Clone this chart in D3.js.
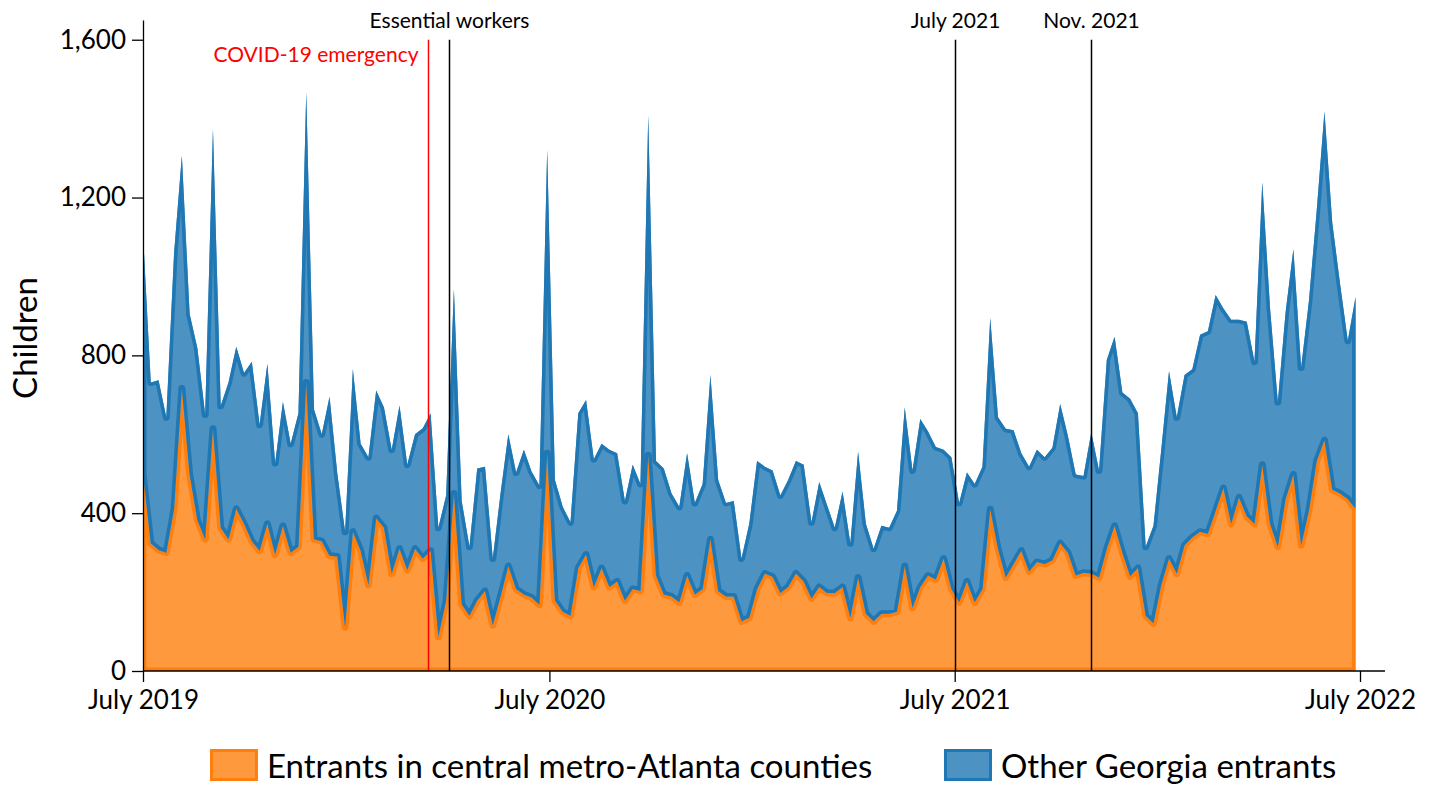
<!DOCTYPE html>
<html><head><meta charset="utf-8">
<script src="https://cdn.jsdelivr.net/npm/d3@7"></script>
<style>
body{margin:0;background:#fff}
svg{display:block}
text{font-family:Lato,"Open Sans",sans-serif;fill:#000}
</style>
</head><body>
<svg id="chart" width="1434" height="787"></svg>
<script>
// ---- data (weekly, starting July 1, 2019) ----
const startDate = "2019-07-01";
const metro = [500,324,307,300,411,716,498,382,334,614,363,334,411,373,329,305,373,295,368,300,
315,731,334,329,292,290,111,353,305,218,387,363,247,310,256,310,285,305,87,179,
450,169,140,179,203,116,189,266,208,194,186,168,552,179,150,140,261,295,213,261,
213,227,179,208,203,547,242,194,189,174,242,194,208,334,203,189,189,126,135,208,
247,239,198,213,247,227,184,213,198,198,213,135,237,145,126,145,145,150,266,160,
213,242,232,285,208,174,227,174,208,410,310,237,271,305,252,276,271,281,324,300,
242,249,247,237,310,368,300,240,261,140,121,218,285,247,319,339,353,348,406,464,
373,440,392,373,523,373,315,436,498,319,406,532,585,460,450,436,411];
const other = [608,407,430,343,649,590,407,436,316,760,309,397,411,382,455,319,406,232,314,276,
338,735,329,271,403,210,242,412,271,324,324,305,314,363,267,290,330,348,276,266,
518,262,175,334,315,169,261,334,295,367,319,302,769,305,266,237,392,392,324,315,
348,325,252,315,271,861,290,319,261,242,310,232,266,416,281,237,242,159,238,324,
271,269,247,271,285,296,193,266,223,165,242,189,319,228,184,223,218,256,402,348,
426,365,336,276,334,252,276,300,310,485,333,377,339,247,266,285,271,285,353,295,
256,245,358,271,479,479,406,450,392,175,247,342,475,396,431,426,499,513,547,455,
517,450,493,411,716,546,367,473,571,450,532,634,833,677,532,401,537];
const seriesKeys = ["metro","other"];
const seriesLabels = ["Entrants in central metro-Atlanta counties","Other Georgia entrants"];
const seriesColors = ["#ff7f0e","#1f77b4"];
const yTicks = [0,400,800,1200,1600];
const xTickDates = ["2019-07-01","2020-07-01","2021-07-01","2022-07-01"];
const xTickLabels = ["July 2019","July 2020","July 2021","July 2022"];
const eventDates = ["2020-03-14","2020-04-02","2021-07-01","2021-11-01"];
const eventLabels = ["COVID-19 emergency","Essential workers","July 2021","Nov. 2021"];
const eventColors = ["red","black","black","black"];

// ---- build ----
const parse = d3.timeParse("%Y-%m-%d");
const t0 = parse(startDate);
const rows = metro.map((m,i)=>({date:d3.timeDay.offset(t0,7*i), metro:m, other:other[i]}));

const svg = d3.select("#chart");
const x = d3.scaleTime().domain([parse("2019-07-01"), parse("2022-07-01")]).range([143,1360]);
const y = d3.scaleLinear().domain([0,1650]).range([671,20]);

const stack = d3.stack().keys(seriesKeys);
const layers = stack(rows);
const area = d3.area().x(d=>x(d.data.date)).y0(d=>y(d[0])).y1(d=>y(d[1]));

const defs = svg.append("defs");
layers.forEach((L,k)=>{
  const d = area(L);
  defs.append("clipPath").attr("id","clip"+k).append("path").attr("d",d);
  svg.append("path").attr("d",d).attr("fill",seriesColors[k]).attr("fill-opacity",0.8);
  svg.append("path").attr("d",d).attr("fill","none").attr("stroke",seriesColors[k])
    .attr("stroke-width",7).attr("stroke-linejoin","round").attr("clip-path","url(#clip"+k+")");
});

// event lines
eventDates.forEach((ds,i)=>{
  const xv = Math.round(x(parse(ds)))+0.5;
  svg.append("line").attr("x1",xv).attr("x2",xv).attr("y1",y(1600)).attr("y2",y(0))
    .attr("stroke",eventColors[i]).attr("stroke-width",1.5);
  const t = svg.append("text").text(eventLabels[i]).style("font-size","21px").style("fill",eventColors[i]);
  if(i===0){ t.attr("x",xv-10).attr("y",62).attr("text-anchor","end"); }
  else { t.attr("x",xv).attr("y",28).attr("text-anchor","middle"); }
});

// axes
const yAxis = d3.axisLeft(y).tickValues(yTicks).tickFormat(d3.format(",")).tickSize(11).tickSizeOuter(0).tickPadding(6);
const gy = svg.append("g").attr("transform","translate(143,0)").call(yAxis);
gy.selectAll("text").style("font-size","26px");
gy.selectAll("line,path").attr("stroke","#000").attr("stroke-width",1.3);

const xAxis = d3.axisBottom(x).tickValues(xTickDates.map(parse)).tickFormat((d,i)=>xTickLabels[i]).tickSize(11).tickSizeOuter(0).tickPadding(9);
const gx = svg.append("g").attr("transform","translate(0,671)").call(xAxis);
gx.select(".domain").remove();
gx.append("line").attr("x1",x.range()[0]).attr("x2",x.range()[1]+25).attr("stroke","#000").attr("stroke-width",1.3);
gx.selectAll("text").style("font-size","26px");
gx.selectAll(".tick line").attr("stroke","#000").attr("stroke-width",1.3);

// y title
svg.append("text").attr("transform","translate(37,338) rotate(-90)").attr("text-anchor","middle")
  .style("font-size","33px").text("Children");

// legend
const legX = [210,944];
seriesKeys.forEach((k,i)=>{
  const g = svg.append("g").attr("transform",`translate(${legX[i]},749)`);
  g.append("rect").attr("x",1.5).attr("y",1.5).attr("width",45).attr("height",29)
    .attr("fill",seriesColors[i]).attr("fill-opacity",0.8).attr("stroke",seriesColors[i]).attr("stroke-width",3);
  g.append("text").attr("x",57).attr("y",29).style("font-size","33px").text(seriesLabels[i]);
});
</script>
</body></html>
